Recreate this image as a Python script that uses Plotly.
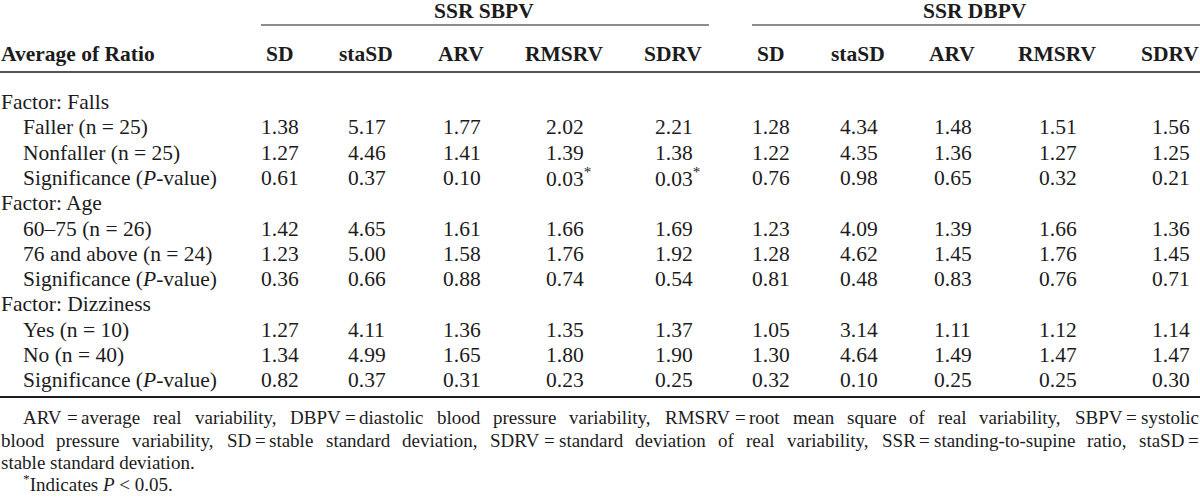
import plotly.graph_objects as go

# ---------------- data ----------------
group_titles = ["SSR SBPV", "SSR DBPV"]
measures = ["SD", "staSD", "ARV", "RMSRV", "SDRV"]
stub_header = "Average of Ratio"

factor_titles = ["Factor: Falls", "Factor: Age", "Factor: Dizziness"]
row_labels = [
    ["Faller (n = 25)", "Nonfaller (n = 25)", "Significance (<i>P</i>-value)"],
    ["60–75 (n = 26)", "76 and above (n = 24)", "Significance (<i>P</i>-value)"],
    ["Yes (n = 10)", "No (n = 40)", "Significance (<i>P</i>-value)"],
]

# values per data row: SBPV SD, staSD, ARV, RMSRV, SDRV, DBPV SD, staSD, ARV, RMSRV, SDRV
faller       = ["1.38", "5.17", "1.77", "2.02", "2.21", "1.28", "4.34", "1.48", "1.51", "1.56"]
nonfaller    = ["1.27", "4.46", "1.41", "1.39", "1.38", "1.22", "4.35", "1.36", "1.27", "1.25"]
sig_falls    = ["0.61", "0.37", "0.10", "0.03", "0.03", "0.76", "0.98", "0.65", "0.32", "0.21"]
age_60_75    = ["1.42", "4.65", "1.61", "1.66", "1.69", "1.23", "4.09", "1.39", "1.66", "1.36"]
age_76_up    = ["1.23", "5.00", "1.58", "1.76", "1.92", "1.28", "4.62", "1.45", "1.76", "1.45"]
sig_age      = ["0.36", "0.66", "0.88", "0.74", "0.54", "0.81", "0.48", "0.83", "0.76", "0.71"]
dizzy_yes    = ["1.27", "4.11", "1.36", "1.35", "1.37", "1.05", "3.14", "1.11", "1.12", "1.14"]
dizzy_no     = ["1.34", "4.99", "1.65", "1.80", "1.90", "1.30", "4.64", "1.49", "1.47", "1.47"]
sig_dizzy    = ["0.82", "0.37", "0.31", "0.23", "0.25", "0.32", "0.10", "0.25", "0.25", "0.30"]
# significance flags (P < 0.05) for the Falls significance row
sig_falls_star = [False, False, False, True, True, False, False, False, False, False]

footnote_justified = [
    "ARV = average real variability, DBPV = diastolic blood pressure variability, RMSRV = root mean square of real variability, SBPV = systolic",
    "blood pressure variability, SD = stable standard deviation, SDRV = standard deviation of real variability, SSR = standing-to-supine ratio, staSD =",
]
footnote_last = "stable standard deviation."
footnote_star = "<sup>*</sup>Indicates <i>P</i> < 0.05."

# ---------------- layout constants ----------------
W, H = 1200, 499
FONT = "Liberation Serif, Times New Roman, serif"
INK = "#1c1c1c"
FS = 21.5
FS_NOTE = 19

col_centers = [279, 366, 461, 564, 673, 770, 858, 952, 1057, 1170]
group_spans = [(261, 709), (752, 1200)]
y_group = 11
y_group_line = 25
y_header = 54
y_header_line = 72
y_first = 102
row_step = 25.3
y_bottom_line = 397
foot_y = [417, 440, 462, 483]

data_rows = [faller, nonfaller, sig_falls, age_60_75, age_76_up, sig_age,
             dizzy_yes, dizzy_no, sig_dizzy]
stars = [[False] * 10, [False] * 10, sig_falls_star] + [[False] * 10] * 6

# Times-compatible advance widths (per 1000 em) used to justify footnote lines
_TW = {' ': 250, ',': 250, '.': 250, '-': 333, '=': 564, '(': 333, ')': 333,
       'A': 722, 'B': 667, 'C': 667, 'D': 722, 'E': 611, 'F': 556, 'G': 722, 'H': 722,
       'I': 333, 'J': 389, 'K': 722, 'L': 611, 'M': 889, 'N': 722, 'O': 722, 'P': 556,
       'Q': 722, 'R': 667, 'S': 556, 'T': 611, 'U': 722, 'V': 722, 'W': 944, 'X': 722,
       'Y': 722, 'Z': 611,
       'a': 444, 'b': 500, 'c': 444, 'd': 500, 'e': 444, 'f': 333, 'g': 500, 'h': 500,
       'i': 278, 'j': 278, 'k': 500, 'l': 278, 'm': 778, 'n': 500, 'o': 500, 'p': 500,
       'q': 500, 'r': 333, 's': 389, 't': 278, 'u': 500, 'v': 500, 'w': 722, 'x': 500,
       'y': 500, 'z': 444}


def text_w(s, fs):
    return sum(_TW.get(ch, 500) for ch in s) * fs / 1000.0


fig = go.Figure()
ann = []
shapes = []


def A(x, y, text, size=FS, xanchor="left", bold=False):
    ann.append(dict(x=x, y=y, xref="x", yref="y", text=(f"<b>{text}</b>" if bold else text),
                    showarrow=False, xanchor=xanchor, yanchor="middle", borderpad=0,
                    font=dict(family=FONT, size=size, color=INK)))


# group headers and their rules
for g, (x0, x1) in zip(group_titles, group_spans):
    A((x0 + x1) / 2 - 1, y_group, g, xanchor="center", bold=True)
    shapes.append(dict(type="line", xref="x", yref="y", x0=x0, x1=x1, y0=y_group_line, y1=y_group_line,
                       line=dict(color=INK, width=1.2)))

# column header row
A(0, y_header, stub_header, bold=True)
for i, c in enumerate(col_centers):
    A(c, y_header, measures[i % 5], xanchor="center", bold=True)
shapes.append(dict(type="line", xref="x", yref="y", x0=0, x1=W, y0=y_header_line, y1=y_header_line,
                   line=dict(color=INK, width=1.5)))

# body
digit_half = 0.875 * FS  # half-width of "d.dd"
y = y_first
ri = 0
for f, labels in zip(factor_titles, row_labels):
    A(0, y, f)
    y += row_step
    for lab in labels:
        A(22, y, lab)
        for c, v, s in zip(col_centers, data_rows[ri], stars[ri]):
            A(c - digit_half, y, v + ("<sup>*</sup>" if s else ""))
        ri += 1
        y += row_step

shapes.append(dict(type="line", xref="x", yref="y", x0=0, x1=W, y0=y_bottom_line, y1=y_bottom_line,
                   line=dict(color=INK, width=2.2)))


# footnotes: first two lines justified between a start and end x
def justify(line, x_start, x_end, yy, fs):
    toks = line.split(" ")
    widths = [text_w(t, fs) for t in toks]
    fixed_gap = 0.2 * fs
    gaps = []
    for i in range(1, len(toks)):
        gaps.append("fixed" if (toks[i] == "=" or toks[i - 1] == "=") else "stretch")
    n_fixed = gaps.count("fixed")
    n_stretch = gaps.count("stretch")
    free = (x_end - x_start) - sum(widths) - n_fixed * fixed_gap
    g = free / n_stretch
    x = x_start
    for i, t in enumerate(toks):
        if i > 0:
            x += fixed_gap if gaps[i - 1] == "fixed" else g
        A(x, yy, t, size=fs)
        x += widths[i]


justify(footnote_justified[0], 22, 1198, foot_y[0], FS_NOTE)
justify(footnote_justified[1], 0, 1198, foot_y[1], FS_NOTE)
A(0, foot_y[2], footnote_last, size=FS_NOTE)
A(22, foot_y[3], footnote_star, size=FS_NOTE)

fig.update_layout(
    width=W, height=H,
    margin=dict(l=0, r=0, t=0, b=0),
    paper_bgcolor="white", plot_bgcolor="white",
    xaxis=dict(range=[0, W], visible=False, fixedrange=True),
    yaxis=dict(range=[H, 0], visible=False, fixedrange=True),
    annotations=ann, shapes=shapes, showlegend=False,
)
fig.write_html("out.html", config={"displayModeBar": False},
               post_script="document.body.style.margin='0';document.body.style.overflow='hidden';")
